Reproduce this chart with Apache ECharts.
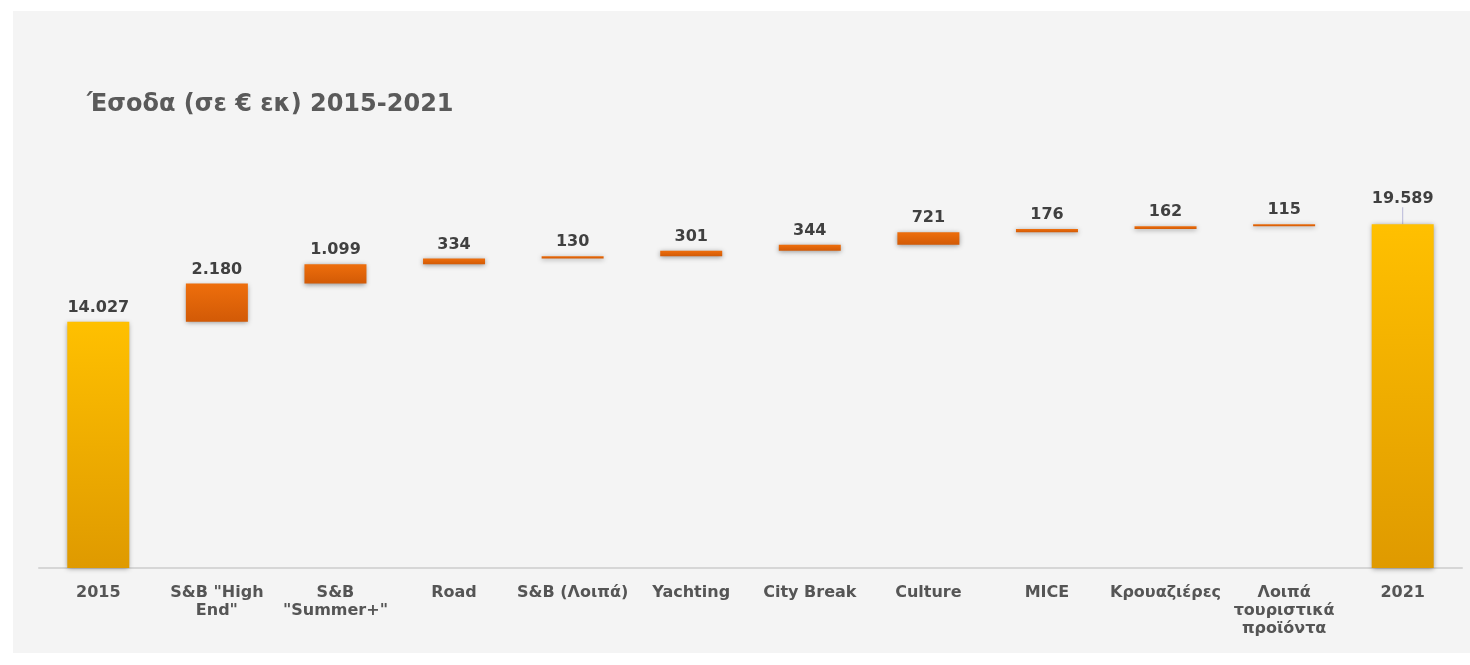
<!DOCTYPE html>
<html>
<head>
<meta charset="utf-8">
<script src="https://cdn.jsdelivr.net/npm/echarts@6/dist/echarts.min.js"></script>
<style>
  html, body { margin: 0; padding: 0; background: #ffffff; }
  #chart { width: 1470px; height: 665px; }
</style>
</head>
<body>
<div id="chart"></div>
<script>
// Revenue bridge 2015 -> 2021 (€ million)
const categories = ['2015', 'S&B "High\nEnd"', 'S&B\n"Summer+"', 'Road', 'S&B (Λοιπά)', 'Yachting',
  'City Break', 'Culture', 'MICE', 'Κρουαζιέρες', 'Λοιπά\nτουριστικά\nπροϊόντα', '2021'];
const values = [14027, 2180, 1099, 334, 130, 301, 344, 721, 176, 162, 115, 19589];
const isTotal = [true, false, false, false, false, false, false, false, false, false, false, true];

// invisible base under each increment = running total before it
const bases = [];
let running = 0;
values.forEach((v, i) => {
  if (isTotal[i]) { bases.push(0); running = v; }
  else { bases.push(running); running += v; }
});

const fmt = v => String(v).replace(/\B(?=(\d{3})+(?!\d))/g, '.');
const FONT = 'DejaVu Sans';

const totalColor = new echarts.graphic.LinearGradient(0, 0, 0, 1, [
  { offset: 0, color: '#FFC000' }, { offset: 1, color: '#DF9A00' }]);
const stepColor = new echarts.graphic.LinearGradient(0, 0, 0, 1, [
  { offset: 0, color: '#EE6E0C' }, { offset: 1, color: '#D25A06' }]);

const chart = echarts.init(document.getElementById('chart'));
chart.setOption({
  animation: false,
  graphic: [{
    type: 'rect', z: -10, silent: true,
    shape: { x: 13, y: 11, width: 1457, height: 642 },
    style: { fill: '#f4f4f4' }
  }],
  title: {
    text: 'Έσοδα (σε € εκ) 2015-2021',
    left: 82, top: 88,
    textStyle: { fontFamily: FONT, fontWeight: 'bold', fontSize: 24, color: '#5a5a5a' }
  },
  grid: { left: 39, right: 8, top: 217, bottom: 97 },
  xAxis: {
    type: 'category',
    data: categories,
    axisLine: { lineStyle: { color: '#d6d6d6', width: 2 } },
    axisTick: { show: false },
    axisLabel: {
      interval: 0, margin: 16,
      fontFamily: FONT, fontWeight: 'bold', fontSize: 16,
      color: '#555555', lineHeight: 18
    }
  },
  yAxis: {
    type: 'value', min: 0, max: 20000,
    show: false, splitLine: { show: false }
  },
  series: [
    {
      name: 'base', type: 'bar', stack: 'wf', barWidth: 62,
      itemStyle: { color: 'transparent' },
      data: bases, silent: true
    },
    {
      name: 'value', type: 'bar', stack: 'wf', barWidth: 62,
      data: values.map((v, i) => ({
        value: v,
        itemStyle: {
          color: isTotal[i] ? totalColor : stepColor,
          shadowColor: 'rgba(0,0,0,0.4)', shadowBlur: 5, shadowOffsetY: 1
        },
        labelLine: i === values.length - 1
          ? { show: true, lineStyle: { color: '#b8b8d8', width: 1 } } : undefined
      })),
      label: {
        show: true, position: 'top', distance: 6,
        formatter: p => fmt(p.value),
        fontFamily: FONT, fontWeight: 'bold', fontSize: 16, color: '#404040'
      },
      labelLayout: p => (p.dataIndex === values.length - 1 ? { dy: -11 } : {})
    }
  ]
});
</script>
</body>
</html>
